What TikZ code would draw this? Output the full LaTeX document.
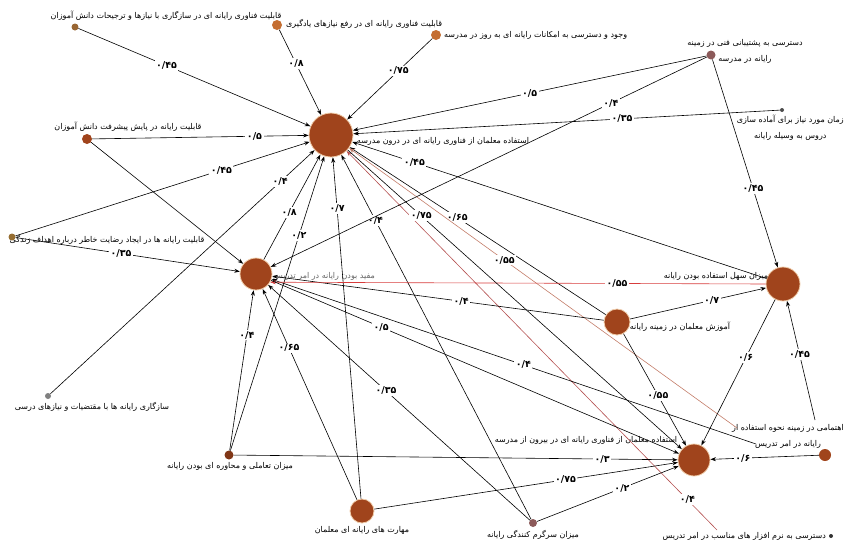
\documentclass[tikz,border=0pt]{standalone}
\usepackage{fontspec}
\usetikzlibrary{arrows.meta}
\TeXXeTstate=1
\newfontfamily\fa[Script=Arabic]{DejaVu Sans}
\definecolor{bigbrown}{RGB}{160,68,28}
\definecolor{rimcol}{RGB}{240,205,170}
\definecolor{redline}{RGB}{215,60,60}
\definecolor{rustline}{RGB}{180,80,80}
\definecolor{salmonline}{RGB}{195,125,105}
\definecolor{ochre}{RGB}{196,110,50}
\definecolor{greybrown}{RGB}{140,90,90}
\definecolor{olivebrown}{RGB}{150,110,50}
\tikzset{
  big/.style={circle,fill=bigbrown,draw=rimcol,line width=0.8pt,inner sep=0pt},
  smalldot/.style={circle,fill=#1,inner sep=0pt},
  txt/.style={font=\fa\fontsize{8}{16}\selectfont,inner sep=1pt,align=center},
  link/.style={-{Stealth[length=5.5pt,width=4pt]},line width=0.6pt},
  coef/.style={font=\fa\bfseries\fontsize{9.5}{10}\selectfont,fill=white,inner sep=1.5pt},
}
\begin{document}
\begin{tikzpicture}[x=1pt,y=-1pt]
\useasboundingbox (0,0) rectangle (846,544);

% main constructs
\node[big,minimum size=44pt] (useIn) at (331,135) {};
\node[big,minimum size=32pt] (useful) at (256,274) {};
\node[big,minimum size=34pt] (ease) at (783,284) {};
\node[big,minimum size=26pt] (training) at (617,322) {};
\node[big,minimum size=32pt] (useOut) at (694,460) {};
\node[big,minimum size=24pt] (skill) at (362,511) {};

% small factors
\node[smalldot=brown!80!black,minimum size=7pt] (adapt) at (75,27) {};
\node[smalldot=ochre,minimum size=10pt] (learnNeed) at (277,25) {};
\node[smalldot=ochre,minimum size=10pt] (access) at (436,35) {};
\node[smalldot=greybrown,minimum size=9pt] (support) at (711,55) {};
\node[smalldot=black!70,minimum size=4pt] (prepTime) at (782,110) {};
\node[smalldot=bigbrown,minimum size=10pt] (monitor) at (87,139) {};
\node[smalldot=olivebrown,minimum size=7pt] (satisf) at (12,237) {};
\node[smalldot=gray,minimum size=6pt] (fitCurr) at (48,396) {};
\node[smalldot=bigbrown!80!black,minimum size=9pt] (interact) at (229,455) {};
\node[smalldot=greybrown,minimum size=8pt] (fun) at (533,523) {};
\node[smalldot=bigbrown,minimum size=12pt] (effort) at (825,455) {};
\node[smalldot=black!80,minimum size=4pt] (software) at (831,536) {};

% texts
\node[txt] (useInTxt) at (443,141) {\beginR استفاده معلمان از فناوری رایانه ای در درون مدرسه\endR};
\node[txt,text=black!60] (usefulTxt) at (324,276) {\beginR مفید بودن رایانه در امر تدریس\endR};
\node[txt] (easeTxt) at (716,276) {\beginR میزان سهل استفاده بودن رایانه\endR};
\node[txt] (trainingTxt) at (680,327) {\beginR آموزش معلمان در زمینه رایانه\endR};
\node[txt] (useOutTxt) at (586,440) {\beginR استفاده معلمان از فناوری رایانه ای در بیرون از مدرسه\endR};
\node[txt] (skillTxt) at (362,530) {\beginR مهارت های رایانه ای معلمان\endR};
\node[txt] (adaptTxt) at (166,16) {\beginR قابلیت فناوری رایانه ای در سازگاری با نیازها و ترجیحات دانش آموزان\endR};
\node[txt,anchor=west] (learnNeedTxt) at (285,24) {\beginR قابلیت فناوری رایانه ای در رفع نیازهای یادگیری\endR};
\node[txt,anchor=west] (accessTxt) at (443,35) {\beginR وجود و دسترسی به امکانات رایانه ای به روز در مدرسه\endR};
\node[txt] (supportTxt) at (745,51) {\beginR دسترسی به پشتیبانی فنی در زمینه\endR\\\beginR رایانه در مدرسه\endR};
\node[txt,anchor=east] (prepTimeTxt) at (845,128) {\beginR زمان مورد نیاز برای آماده سازی\endR\\\beginR دروس به وسیله رایانه\endR};
\node[txt] (monitorTxt) at (128,127) {\beginR قابلیت رایانه در پایش پیشرفت دانش آموزان\endR};
\node[txt] (satisfTxt) at (107,240) {\beginR قابلیت رایانه ها در ایجاد رضایت خاطر درباره اهداف زندگی\endR};
\node[txt] (fitCurrTxt) at (92,407) {\beginR سازگاری رایانه ها با مقتضیات و نیازهای درسی\endR};
\node[txt] (interactTxt) at (230,466) {\beginR میزان تعاملی و محاوره ای بودن رایانه\endR};
\node[txt] (funTxt) at (533,535) {\beginR میزان سرگرم کنندگی رایانه\endR};
\node[txt,anchor=east] (effortTxt) at (845,436) {\beginR اهتمامی در زمینه نحوه استفاده از\endR\\\beginR رایانه در امر تدریس\endR};
\node[txt,anchor=east] (softwareTxt) at (827,536) {\beginR دسترسی به نرم افزار های مناسب در امر تدریس\endR};

% line ends at the texts
\coordinate (effortTop) at (815,420);
\coordinate (effortLeft) at (737,428);
\coordinate (effortLow) at (756,444);
\coordinate (softwareEnd) at (717,530);

% paths into use inside school
\draw[link] (adapt) -- node[coef,pos=.38] {۰/۴۵} (useIn);
\draw[link] (learnNeed) -- node[coef,pos=.4] {۰/۸} (useIn);
\draw[link] (access) -- node[coef,pos=.4] {۰/۷۵} (useIn);
\draw[link] (support) -- node[coef,pos=.5] {۰/۵} (useIn);
\draw[link] (prepTime) -- node[coef,pos=.37] {۰/۳۵} (useIn);
\draw[link] (monitor) -- node[coef,pos=.75] {۰/۵} (useIn);
\draw[link] (satisf) -- node[coef,pos=.7] {۰/۴۵} (useIn);
\draw[link] (fitCurr) -- node[coef,pos=.87] {۰/۴} (useIn);
\draw[link] (useful) -- node[coef,pos=.45] {۰/۸} (useIn);
\draw[link] (interact) -- node[coef,pos=.73] {۰/۲} (useIn);
\draw[link] (skill) -- node[coef,pos=.85] {۰/۷} (useIn);
\draw[link] (fun) -- node[coef,pos=.82] {۰/۴} (useIn);
\draw[link] (training) -- node[coef,pos=.58] {۰/۶۵} (useIn);
\draw[link] (ease) -- node[coef,pos=.85] {۰/۴۵} (useIn);
\draw[link,salmonline] (effortLeft) -- node[coef,text=black,pos=.6] {۰/۵۵} (useIn);
\draw[link,rustline] (softwareEnd) -- node[coef,text=black,pos=.08] {۰/۴} (useIn);

% paths into usefulness
\draw[link] (support) -- node[coef,pos=.22] {۰/۴} (useful);
\draw[link] (monitor) -- (useful);
\draw[link] (satisf) -- node[coef,pos=.47] {۰/۳۵} (useful);
\draw[link] (interact) -- node[coef,pos=.72] {۰/۴} (useful);
\draw[link] (skill) -- node[coef,pos=.72] {۰/۶۵} (useful);
\draw[link] (fun) -- node[coef,pos=.55] {۰/۳۵} (useful);
\draw[link] (training) -- node[coef,pos=.43] {۰/۴} (useful);
\draw[link] (effortLow) -- node[coef,pos=.48] {۰/۴} (useful);
\draw[link,redline] (ease.west) -- node[coef,text=black,pos=.3] {۰/۵۵} (useful.-30);

% paths into ease of use
\draw[link] (support) -- node[coef,pos=.62] {۰/۴۵} (ease);
\draw[link] (training) -- node[coef,pos=.6] {۰/۷} (ease);
\draw[link] (effortTop) -- node[coef,pos=.55] {۰/۴۵} (ease);

% paths into use outside school
\draw[link] (interact) -- node[coef,pos=.83] {۰/۳} (useOut);
\draw[link] (skill) -- node[coef,pos=.63] {۰/۷۵} (useOut);
\draw[link] (fun) -- node[coef,pos=.6] {۰/۲} (useOut);
\draw[link] (training) -- node[coef,pos=.55] {۰/۵۵} (useOut);
\draw[link] (ease) -- node[coef,pos=.4] {۰/۶} (useOut);
\draw[link] (effort) -- node[coef,pos=.7] {۰/۶} (useOut);
\draw[link] (useful) -- node[coef,pos=.27] {۰/۵} (useOut);
\draw[link] (useIn) -- node[coef,pos=.22] {۰/۷۵} (useOut);
\end{tikzpicture}
\end{document}
